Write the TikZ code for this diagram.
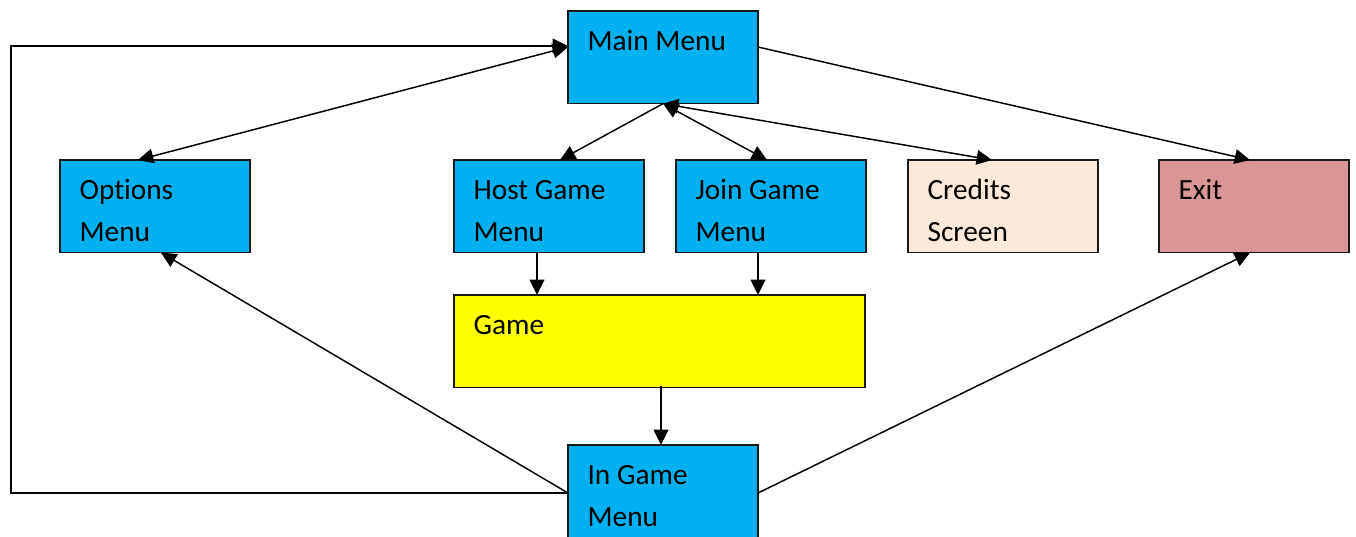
\documentclass[tikz,border=0pt]{standalone}
\usepackage{fontspec}
\setmainfont{Carlito}[Ligatures={NoCommon}]
\usetikzlibrary{arrows.meta,calc}
\definecolor{menublue}{HTML}{00B0F0}
\definecolor{gameyellow}{HTML}{FFFF00}
\definecolor{creditspeach}{HTML}{FDE9D9}
\definecolor{exitrose}{HTML}{D99694}
\tikzset{
  screen/.style={rectangle, draw=black!90, line width=1.1pt, fill=menublue,
    anchor=north west, inner sep=0pt, outer sep=0pt,
    minimum width=142.5pt, minimum height=69.5pt},
  caption/.style={label={[anchor=north west, inner sep=0pt, xshift=14.5pt,
    align=left, font=\fontsize{22pt}{31.5pt}\selectfont]north west:\rule{0pt}{29.25pt}#1}},
  tip/.tip={Triangle[length=11.5pt,width=11pt]},
  link/.style={line width=1.1pt, -tip},
  twoway/.style={line width=1.1pt, tip-tip},
}
\begin{document}
\begin{tikzpicture}[x=0.75pt, y=-0.75pt]
\path[use as bounding box, fill=white] (0,0) rectangle (1356,536);

% screens
\node[screen, caption={Main Menu}] (main) at (568,11) {};
\node[screen, caption={Options\\Menu}] (opts) at (60,160) {};
\node[screen, caption={Host Game\\Menu}] (host) at (454,160) {};
\node[screen, caption={Join Game\\Menu}] (join) at (676,160) {};
\node[screen, fill=creditspeach, caption={Credits\\Screen}] (cred) at (908,160) {};
\node[screen, fill=exitrose, caption={Exit}] (exit) at (1159,160) {};
\node[screen, fill=gameyellow, minimum width=308.25pt, caption={Game}] (game) at (454,295) {};
\node[screen, caption={In Game\\Menu}] (ingame) at (568,445) {};

% navigation from the main menu
\draw[twoway] ($(main.north west)+(0,36)$) -- ($(opts.north west)+(78,0)$);
\draw[link] ($(main.north east)+(0,36)$) -- ($(exit.north west)+(91,0)$);
\draw[link] (main.south) -- ($(host.north west)+(106,0)$);
\draw[twoway] (main.south) -- ($(join.north west)+(91,0)$);
\draw[twoway] (main.south) -- ($(cred.north west)+(84,0)$);

% into the game
\draw[link] ($(host.south west)+(83,0)$) -- ($(game.north west)+(83,0)$);
\draw[link] ($(join.south west)+(82,0)$) -- ($(game.north west)+(304,0)$);
\draw[link] ($(game.south west)+(207,-2)$) -- ($(ingame.north west)+(93,0)$);

% from the in-game menu
\draw[link] ($(ingame.north west)+(0,48)$) -- ($(opts.south west)+(101,0)$);
\draw[link] ($(ingame.north east)+(0,48)$) -- ($(exit.south west)+(91,0)$);
\draw[link] ($(ingame.north west)+(0,48)$) -- ++(-557,0) |- ($(main.north west)+(0,35)$);
\end{tikzpicture}
\end{document}
